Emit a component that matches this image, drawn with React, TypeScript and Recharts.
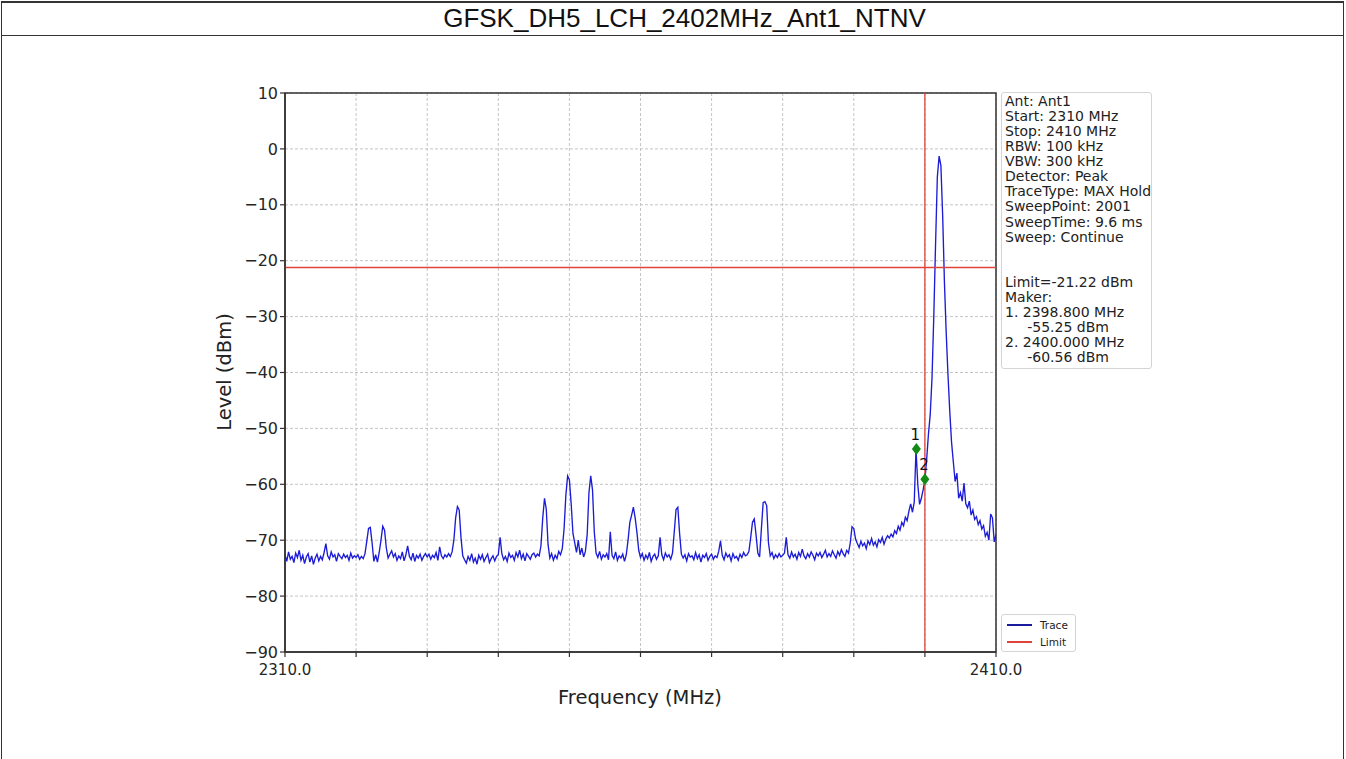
import React from 'react';
import {
  LineChart,
  Line,
  XAxis,
  YAxis,
  CartesianGrid,
  ReferenceLine,
  ReferenceDot,
  ReferenceArea,
} from 'recharts';

// sweep setup
const FREQ_START = 2310;
const FREQ_STOP = 2410;

// trace levels (dBm), 0.25 MHz apart
const LEVELS = [
  -72.6, -73.8, -72.1, -73.4, -72.9, -74.0, -72.3, -73.1, -71.8, -73.6, -72.7, -74.2, -73.0, -72.4, -73.9, -72.8, -74.3, -73.2, -72.5, -73.7,
  -72.9, -73.5, -72.2, -70.6, -72.8, -73.4, -72.1, -73.0, -72.6, -73.8, -72.4, -72.9, -73.3, -72.5, -73.1, -72.7, -73.6, -72.3, -73.2, -72.8,
  -73.1, -72.6, -73.4, -72.9, -73.3, -72.4, -70.2, -67.9, -67.7, -70.5, -73.8, -72.6, -73.9, -72.2, -70.0, -67.5, -68.2, -71.4, -73.2, -72.5,
  -71.9, -73.0, -72.4, -73.6, -72.8, -73.3, -72.1, -73.7, -72.6, -71.0, -72.9, -73.5, -72.3, -73.8, -72.7, -73.2, -72.5, -73.6, -72.9, -72.4,
  -73.0, -72.5, -73.4, -72.7, -73.1, -72.2, -73.6, -71.2, -72.8, -73.3, -72.6, -73.0, -72.4, -72.9, -72.1, -70.0, -66.0, -64.0, -64.6, -69.5,
  -72.8, -73.5, -74.1, -72.9, -73.6, -72.4, -73.9, -73.2, -74.3, -72.7, -73.4, -72.6, -73.8, -73.1, -72.5, -74.0, -73.3, -72.8, -73.7, -72.9,
  -72.6, -69.5, -72.4, -73.5, -72.9, -73.8, -72.3, -73.1, -72.7, -73.6, -72.2, -73.0, -71.8, -73.3, -72.5, -73.7, -72.4, -72.9, -73.4, -72.6,
  -72.3, -73.0, -72.5, -72.8, -71.0, -66.0, -62.5, -64.5, -70.8, -73.2, -72.4, -73.6, -72.7, -73.3, -72.0, -72.6, -71.5, -68.0, -62.0, -58.5,
  -59.2, -63.5, -68.8, -70.5, -72.2, -70.0, -72.6, -71.4, -73.0, -72.0, -69.0, -61.5, -58.5, -61.0, -68.5, -72.3, -73.1, -72.0, -73.4, -72.6,
  -73.0, -72.4, -73.5, -68.5, -72.7, -73.3, -72.1, -73.6, -72.8, -73.2, -72.5, -73.8, -72.6, -70.0, -66.8, -65.5, -64.1, -66.0, -68.6, -71.8,
  -73.1, -72.4, -73.6, -72.7, -73.3, -72.2, -73.8, -72.9, -72.5, -73.4, -72.8, -69.5, -72.6, -73.5, -72.3, -73.0, -72.6, -73.4, -72.3, -68.5,
  -64.5, -64.1, -68.8, -72.5, -73.2, -72.6, -73.7, -72.4, -73.0, -72.8, -73.5, -72.2, -73.3, -72.6, -73.9, -72.7, -73.1, -72.4, -73.6, -72.9,
  -72.5, -73.4, -72.8, -73.1, -72.0, -70.1, -72.7, -73.5, -72.3, -73.0, -72.6, -73.7, -72.4, -73.2, -72.9, -73.6, -72.5, -73.1, -72.2, -72.8,
  -72.6, -72.0, -69.5, -66.8, -66.2, -69.0, -72.3, -73.0, -68.0, -63.3, -63.1, -63.8, -70.5, -72.8, -72.2, -73.3, -72.6, -73.1, -72.4, -73.0,
  -72.7, -72.3, -69.5, -72.6, -73.2, -72.1, -73.0, -72.5, -73.4, -72.2, -72.9, -71.6, -72.8, -73.3, -72.4, -73.0, -72.1, -72.7, -73.5, -72.3,
  -72.8, -72.2, -73.1, -72.5, -71.8, -73.0, -72.4, -72.9, -71.9, -72.6, -73.2, -72.0, -72.7, -71.7, -72.4, -72.9, -71.8, -72.3, -70.5, -67.6,
  -67.9, -69.8, -70.6, -71.3, -70.2, -71.0, -70.5, -71.5, -70.1, -70.8, -69.7, -70.9, -70.3, -71.2, -69.9, -70.4, -69.5, -70.7, -69.8, -69.2,
  -69.6, -68.9, -69.4, -68.3, -68.8, -67.5, -68.2, -66.8, -67.4, -65.9, -66.5, -64.8, -63.5, -65.0, -63.2, -53.7, -60.0, -63.6, -62.5, -61.0,
  -59.2, -55.5, -51.0, -47.5, -41.0, -30.0, -17.0, -5.0, -1.3, -3.0, -12.0, -24.0, -33.0, -40.5, -47.0, -52.5, -56.0, -59.5, -58.0, -62.5,
  -61.5, -63.0, -59.8, -63.5, -64.2, -63.0, -65.5, -64.6, -66.3, -65.8, -67.2, -66.5, -68.0, -67.4, -69.3, -68.6, -70.0, -65.3, -66.0, -70.3,
  -69.0,
];

const LIMIT = -21.22;
const LIMIT_FREQ = 2400;

// markers as plotted
const MARKER_FREQS = [2398.8, 2400.0];
const MARKER_LEVELS = [-53.7, -59.1];
const MARKER_NAMES = ['1', '2'];

const X_TICKS = [2310, 2320, 2330, 2340, 2350, 2360, 2370, 2380, 2390, 2400, 2410];
const Y_TICKS = [-90, -80, -70, -60, -50, -40, -30, -20, -10, 0, 10];

const INFO_LINES = [
  'Ant: Ant1',
  'Start: 2310 MHz',
  'Stop: 2410 MHz',
  'RBW: 100 kHz',
  'VBW: 300 kHz',
  'Detector: Peak',
  'TraceType: MAX Hold',
  'SweepPoint: 2001',
  'SweepTime: 9.6 ms',
  'Sweep: Continue',
  '',
  '',
  'Limit=-21.22 dBm',
  'Maker:',
  '1. 2398.800 MHz',
  '     -55.25 dBm',
  '2. 2400.000 MHz',
  '     -60.56 dBm',
];

const TITLE = 'GFSK_DH5_LCH_2402MHz_Ant1_NTNV';

const step = (FREQ_STOP - FREQ_START) / (LEVELS.length - 1);
const data = LEVELS.map((level, i) => ({ freq: FREQ_START + i * step, level }));

const FONT = '"DejaVu Sans", sans-serif';
const RED = '#e0433a';

const fmtY = (v: number) => (v < 0 ? `\u2212${Math.abs(v)}` : `${v}`);
const fmtX = (v: number) => (v === FREQ_START || v === FREQ_STOP ? v.toFixed(1) : '');

// green diamond marker with its number above
const Diamond = (name: string) => (props: any) => {
  const { cx, cy } = props;
  return (
    <g>
      <path d={`M${cx},${cy - 6} L${cx + 4.5},${cy} L${cx},${cy + 6} L${cx - 4.5},${cy} Z`} fill="#138a13" />
      <text x={cx - 1} y={cy - 9} textAnchor="middle" fontSize={15} fontFamily={FONT} fill="#111">
        {name}
      </text>
    </g>
  );
};

export default function App() {
  return (
    <div style={{ position: 'absolute', left: 0, top: 0, width: 1346, height: 759, overflow: 'hidden', background: '#fff' }}>
      {/* outer frame and title row */}
      <div
        style={{
          position: 'absolute',
          left: 1,
          top: 1,
          width: 1341,
          height: 800,
          border: '1.5px solid #333',
          borderTopWidth: 2,
        }}
      />
      <div
        style={{
          position: 'absolute',
          left: 1,
          top: 1,
          width: 1343,
          height: 34,
          borderBottom: '1.5px solid #333',
          fontFamily: '"Liberation Sans", Arial, sans-serif',
          fontSize: 26,
          lineHeight: '35px',
          color: '#111',
        }}
      >
        <div style={{ position: 'absolute', left: 12, width: 1343, textAlign: 'center' }}>{TITLE}</div>
      </div>

      <div style={{ position: 'absolute', left: 0, top: 0 }}>
        <LineChart width={1346} height={759} data={data} margin={{ top: 93, right: 350, bottom: 77, left: 225 }}>
          <CartesianGrid stroke="#c4c4c4" strokeDasharray="3 2" />
          <XAxis
            dataKey="freq"
            type="number"
            domain={[FREQ_START, FREQ_STOP]}
            ticks={X_TICKS}
            tickFormatter={fmtX}
            interval={0}
            height={30}
            tickSize={5}
            tickMargin={7}
            axisLine={{ stroke: '#333', strokeWidth: 1.5 }}
            tickLine={{ stroke: '#333', strokeWidth: 1.2 }}
            tick={{ fontSize: 15, fontFamily: FONT, fill: '#262626' }}
            allowDataOverflow
          />
          <YAxis
            type="number"
            domain={[-90, 10]}
            ticks={Y_TICKS}
            tickFormatter={fmtY}
            interval={0}
            width={60}
            tickSize={5}
            tickMargin={2}
            axisLine={{ stroke: '#333', strokeWidth: 1.5 }}
            tickLine={{ stroke: '#333', strokeWidth: 1.2 }}
            tick={{ fontSize: 16, fontFamily: FONT, fill: '#262626' }}
            allowDataOverflow
          />
          <ReferenceArea x1={FREQ_START} x2={FREQ_STOP} y1={-90} y2={10} fill="none" stroke="#333" strokeWidth={1.5} />
          <Line
            type="linear"
            dataKey="level"
            stroke="#1c1cd6"
            strokeWidth={1.35}
            dot={false}
            isAnimationActive={false}
          />
          <ReferenceLine y={LIMIT} stroke={RED} strokeWidth={1.5} ifOverflow="extendDomain" />
          <ReferenceLine x={LIMIT_FREQ} stroke={RED} strokeWidth={1.3} />
          {MARKER_FREQS.map((f, i) => (
            <ReferenceDot key={i} x={f} y={MARKER_LEVELS[i]} r={5} shape={Diamond(MARKER_NAMES[i])} />
          ))}
        </LineChart>
      </div>

      {/* axis labels */}
      <div
        style={{
          position: 'absolute',
          left: 540,
          top: 686,
          width: 200,
          textAlign: 'center',
          fontFamily: FONT,
          fontSize: 19.5,
          color: '#222',
        }}
      >
        Frequency (MHz)
      </div>
      <div
        style={{
          position: 'absolute',
          left: 225 - 100,
          top: 372 - 12,
          width: 200,
          height: 24,
          lineHeight: '24px',
          textAlign: 'center',
          fontFamily: FONT,
          fontSize: 19.5,
          color: '#222',
          transform: 'rotate(-90deg)',
        }}
      >
        Level (dBm)
      </div>

      {/* info box */}
      <div
        style={{
          position: 'absolute',
          left: 1001,
          top: 92,
          width: 151,
          height: 277,
          border: '1px solid #d4d4d4',
          borderRadius: 3,
          boxSizing: 'border-box',
          padding: '1px 0 0 3px',
          fontFamily: FONT,
          fontSize: 14,
          lineHeight: '15.07px',
          color: '#222',
          whiteSpace: 'pre',
          overflow: 'visible',
        }}
      >
        {INFO_LINES.map((l, i) => (
          <div key={i} style={{ height: 15.07 }}>
            {l}
          </div>
        ))}
      </div>

      {/* series legend */}
      <div
        style={{
          position: 'absolute',
          left: 1001,
          top: 614,
          width: 75,
          height: 38,
          border: '1px solid #d4d4d4',
          borderRadius: 3,
          boxSizing: 'border-box',
          fontFamily: FONT,
          fontSize: 10.5,
          color: '#222',
        }}
      >
        <div style={{ position: 'absolute', left: 5, top: 9, width: 25, height: 2, background: '#1a1a9e' }} />
        <div style={{ position: 'absolute', left: 38, top: 2, lineHeight: '16px' }}>Trace</div>
        <div style={{ position: 'absolute', left: 5, top: 26, width: 25, height: 1.5, background: RED }} />
        <div style={{ position: 'absolute', left: 38, top: 19, lineHeight: '16px' }}>Limit</div>
      </div>
    </div>
  );
}
